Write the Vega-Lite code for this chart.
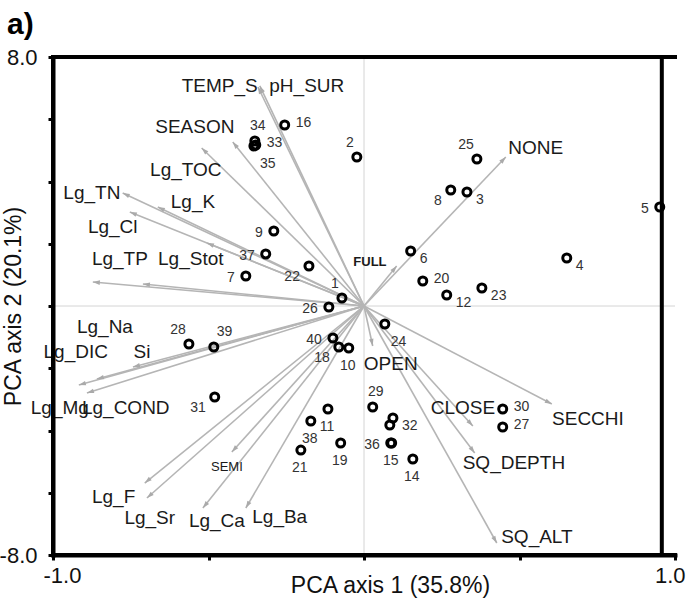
{
  "$schema": "https://vega.github.io/schema/vega-lite/v6.json",
  "width": 622,
  "height": 498,
  "autosize": "none",
  "padding": {"left": 53, "top": 57, "right": 21, "bottom": 47},
  "background": "white",
  "config": {
    "view": {"stroke": null},
    "font": "Liberation Sans",
    "axis": {"grid": false, "domain": true, "ticks": true, "domainColor": "black", "domainWidth": 4, "domainCap": "square", "domainOpacity": 1,
      "tickColor": "black", "tickWidth": 3, "tickSize": 5, "tickOpacity": 1, "zindex": 1,
      "labelFont": "Liberation Sans", "labelFontSize": 22, "labelColor": "#111",
      "titleFont": "Liberation Sans", "titleFontSize": 23, "titleFontWeight": "normal", "titleColor": "#111"}
  },
  "title": {"text": "a)", "anchor": "start", "frame": "group", "fontSize": 30, "fontWeight": "bold", "font": "Liberation Sans", "color": "black", "dx": -46, "offset": 6},
  "datasets": {
    "points": [
      {"id": "1", "x": -0.071, "y": 0.257, "pos": "nw"},
      {"id": "2", "x": -0.023, "y": 4.787, "pos": "nw"},
      {"id": "3", "x": 0.331, "y": 3.663, "pos": "se"},
      {"id": "4", "x": 0.652, "y": 1.542, "pos": "se"},
      {"id": "5", "x": 0.951, "y": 3.181, "pos": "w"},
      {"id": "6", "x": 0.150, "y": 1.767, "pos": "se"},
      {"id": "7", "x": -0.380, "y": 0.964, "pos": "w"},
      {"id": "8", "x": 0.279, "y": 3.727, "pos": "sw"},
      {"id": "9", "x": -0.290, "y": 2.410, "pos": "w"},
      {"id": "10", "x": -0.049, "y": -1.349, "pos": "s"},
      {"id": "11", "x": -0.116, "y": -3.309, "pos": "s"},
      {"id": "12", "x": 0.266, "y": 0.353, "pos": "se"},
      {"id": "13", "x": 0.083, "y": -3.823, "pos": "none"},
      {"id": "14", "x": 0.157, "y": -4.916, "pos": "s"},
      {"id": "15", "x": 0.089, "y": -4.402, "pos": "s"},
      {"id": "16", "x": -0.255, "y": 5.815, "pos": "e"},
      {"id": "18", "x": -0.081, "y": -1.317, "pos": "sw"},
      {"id": "19", "x": -0.075, "y": -4.402, "pos": "s"},
      {"id": "20", "x": 0.189, "y": 0.803, "pos": "e"},
      {"id": "21", "x": -0.203, "y": -4.627, "pos": "s"},
      {"id": "22", "x": -0.177, "y": 1.285, "pos": "sw"},
      {"id": "23", "x": 0.379, "y": 0.578, "pos": "se"},
      {"id": "24", "x": 0.067, "y": -0.578, "pos": "sse"},
      {"id": "25", "x": 0.363, "y": 4.723, "pos": "nw"},
      {"id": "26", "x": -0.113, "y": -0.032, "pos": "w"},
      {"id": "27", "x": 0.446, "y": -3.888, "pos": "e"},
      {"id": "28", "x": -0.563, "y": -1.221, "pos": "nw"},
      {"id": "29", "x": 0.028, "y": -3.245, "pos": "n"},
      {"id": "30", "x": 0.446, "y": -3.309, "pos": "e"},
      {"id": "31", "x": -0.480, "y": -2.924, "pos": "sw"},
      {"id": "32", "x": 0.093, "y": -3.598, "pos": "se"},
      {"id": "33", "x": -0.348, "y": 5.173, "pos": "e"},
      {"id": "34", "x": -0.351, "y": 5.301, "pos": "n"},
      {"id": "35", "x": -0.354, "y": 5.141, "pos": "sse"},
      {"id": "36", "x": 0.086, "y": -4.402, "pos": "w"},
      {"id": "37", "x": -0.316, "y": 1.671, "pos": "w"},
      {"id": "38", "x": -0.171, "y": -3.695, "pos": "s"},
      {"id": "39", "x": -0.483, "y": -1.317, "pos": "ne"},
      {"id": "40", "x": -0.100, "y": -1.028, "pos": "w"}
    ],
    "arrows": [
      {"name": "TEMP_S", "x": -0.341, "y": 7.036, "lx": -0.464, "ly": 7.068},
      {"name": "pH_SUR", "x": -0.335, "y": 7.07, "lx": -0.184, "ly": 7.068},
      {"name": "SEASON", "x": -0.422, "y": 5.269, "lx": -0.544, "ly": 5.751},
      {"name": "Lg_TOC", "x": -0.522, "y": 5.076, "lx": -0.573, "ly": 4.369},
      {"name": "Lg_TN", "x": -0.776, "y": 3.631, "lx": -0.875, "ly": 3.631},
      {"name": "Lg_K", "x": -0.663, "y": 3.181, "lx": -0.550, "ly": 3.341},
      {"name": "Lg_Cl", "x": -0.753, "y": 3.020, "lx": -0.808, "ly": 2.538},
      {"name": "Lg_Stot", "x": -0.505, "y": 2.024, "lx": -0.557, "ly": 1.510},
      {"name": "Lg_TP", "x": -0.711, "y": 0.707, "lx": -0.785, "ly": 1.510},
      {"name": "Lg_Na", "x": -0.872, "y": 0.771, "lx": -0.833, "ly": -0.675},
      {"name": "NONE", "x": 0.456, "y": 4.787, "lx": 0.552, "ly": 5.076},
      {"name": "FULL", "x": 0.105, "y": 1.285, "lx": 0.019, "ly": 1.414},
      {"name": "Si", "x": -0.743, "y": -1.960, "lx": -0.714, "ly": -1.478},
      {"name": "Lg_DIC", "x": -0.859, "y": -2.345, "lx": -0.927, "ly": -1.478},
      {"name": "Lg_Mg", "x": -0.917, "y": -2.538, "lx": -0.978, "ly": -3.277},
      {"name": "Lg_COND", "x": -0.891, "y": -2.795, "lx": -0.766, "ly": -3.277},
      {"name": "SEMI", "x": -0.425, "y": -4.691, "lx": -0.441, "ly": -5.173},
      {"name": "Lg_F", "x": -0.705, "y": -5.687, "lx": -0.805, "ly": -6.137},
      {"name": "Lg_Sr", "x": -0.698, "y": -6.169, "lx": -0.689, "ly": -6.811},
      {"name": "Lg_Ca", "x": -0.518, "y": -6.490, "lx": -0.473, "ly": -6.908},
      {"name": "Lg_Ba", "x": -0.380, "y": -6.490, "lx": -0.271, "ly": -6.779},
      {"name": "OPEN", "x": 0.028, "y": -1.285, "lx": 0.086, "ly": -1.863},
      {"name": "CLOSE", "x": 0.350, "y": -3.855, "lx": 0.318, "ly": -3.277},
      {"name": "SECCHI", "x": 0.604, "y": -3.149, "lx": 0.720, "ly": -3.631},
      {"name": "SQ_DEPTH", "x": 0.356, "y": -4.723, "lx": 0.482, "ly": -5.044},
      {"name": "SQ_ALT", "x": 0.427, "y": -7.614, "lx": 0.556, "ly": -7.422}
    ]
  },
  "layer": [
    {
      "data": {"values": [{}]},
      "mark": {"type": "rule", "color": "#d4d4d4", "strokeWidth": 1},
      "encoding": {"y": {"datum": 0, "type": "quantitative", "scale": {"domain": [-8, 8], "nice": false, "zero": false}}}
    },
    {
      "data": {"values": [{}]},
      "mark": {"type": "rule", "color": "#d4d4d4", "strokeWidth": 1},
      "encoding": {"x": {"datum": 0, "type": "quantitative", "scale": {"domain": [-1, 1], "nice": false, "zero": false}}}
    },
    {
      "data": {"name": "arrows"},
      "mark": {"type": "rule", "color": "#b5b5b5", "strokeWidth": 1.6},
      "encoding": {
        "x": {"field": "x", "type": "quantitative", "scale": {"domain": [-1, 1], "nice": false, "zero": false}},
        "y": {"field": "y", "type": "quantitative", "scale": {"domain": [-8, 8], "nice": false, "zero": false}},
        "x2": {"datum": 0},
        "y2": {"datum": 0}
      }
    },
    {
      "data": {"name": "arrows"},
      "transform": [{"calculate": "atan2(311 * datum.x, 31.125 * datum.y) * 180 / PI", "as": "ang"}],
      "mark": {"type": "point", "shape": "M0,0L-0.32,1L0.32,1Z", "filled": true, "color": "#aaaaaa", "size": 200, "opacity": 1},
      "encoding": {
        "x": {"field": "x", "type": "quantitative", "scale": {"domain": [-1, 1], "nice": false, "zero": false}},
        "y": {"field": "y", "type": "quantitative", "scale": {"domain": [-8, 8], "nice": false, "zero": false}},
        "angle": {"field": "ang", "type": "quantitative", "scale": null}
      }
    },
    {
      "data": {"name": "arrows"},
      "transform": [{"filter": "datum.name !== 'FULL' && datum.name !== 'SEMI'"}],
      "mark": {"type": "text", "fontSize": 19, "font": "Liberation Sans", "color": "#1a1a1a", "align": "center", "baseline": "middle"},
      "encoding": {
        "x": {"field": "lx", "type": "quantitative", "scale": {"domain": [-1, 1], "nice": false, "zero": false}},
        "y": {"field": "ly", "type": "quantitative", "scale": {"domain": [-8, 8], "nice": false, "zero": false}},
        "text": {"field": "name"}
      }
    },
    {
      "data": {"name": "arrows"},
      "transform": [{"filter": "datum.name === 'FULL'"}],
      "mark": {"type": "text", "fontSize": 13, "fontWeight": "bold", "font": "Liberation Sans", "color": "#1a1a1a", "align": "center", "baseline": "middle"},
      "encoding": {
        "x": {"field": "lx", "type": "quantitative", "scale": {"domain": [-1, 1], "nice": false, "zero": false}},
        "y": {"field": "ly", "type": "quantitative", "scale": {"domain": [-8, 8], "nice": false, "zero": false}},
        "text": {"field": "name"}
      }
    },
    {
      "data": {"name": "arrows"},
      "transform": [{"filter": "datum.name === 'SEMI'"}],
      "mark": {"type": "text", "fontSize": 13, "font": "Liberation Sans", "color": "#1a1a1a", "align": "center", "baseline": "middle"},
      "encoding": {
        "x": {"field": "lx", "type": "quantitative", "scale": {"domain": [-1, 1], "nice": false, "zero": false}},
        "y": {"field": "ly", "type": "quantitative", "scale": {"domain": [-8, 8], "nice": false, "zero": false}},
        "text": {"field": "name"}
      }
    },
    {
      "data": {"name": "points"},
      "transform": [{"filter": "datum.pos === 'n'"}],
      "mark": {"type": "text", "fontSize": 14, "font": "Liberation Sans", "color": "#333", "align": "center", "baseline": "middle", "dx": 3, "dy": -15},
      "encoding": {
        "x": {"field": "x", "type": "quantitative", "scale": {"domain": [-1, 1], "nice": false, "zero": false}},
        "y": {"field": "y", "type": "quantitative", "scale": {"domain": [-8, 8], "nice": false, "zero": false}},
        "text": {"field": "id"}
      }
    },
    {
      "data": {"name": "points"},
      "transform": [{"filter": "datum.pos === 's'"}],
      "mark": {"type": "text", "fontSize": 14, "font": "Liberation Sans", "color": "#333", "align": "center", "baseline": "middle", "dx": -1, "dy": 18},
      "encoding": {
        "x": {"field": "x", "type": "quantitative", "scale": {"domain": [-1, 1], "nice": false, "zero": false}},
        "y": {"field": "y", "type": "quantitative", "scale": {"domain": [-8, 8], "nice": false, "zero": false}},
        "text": {"field": "id"}
      }
    },
    {
      "data": {"name": "points"},
      "transform": [{"filter": "datum.pos === 'e'"}],
      "mark": {"type": "text", "fontSize": 14, "font": "Liberation Sans", "color": "#333", "align": "left", "baseline": "middle", "dx": 11, "dy": -2},
      "encoding": {
        "x": {"field": "x", "type": "quantitative", "scale": {"domain": [-1, 1], "nice": false, "zero": false}},
        "y": {"field": "y", "type": "quantitative", "scale": {"domain": [-8, 8], "nice": false, "zero": false}},
        "text": {"field": "id"}
      }
    },
    {
      "data": {"name": "points"},
      "transform": [{"filter": "datum.pos === 'w'"}],
      "mark": {"type": "text", "fontSize": 14, "font": "Liberation Sans", "color": "#333", "align": "right", "baseline": "middle", "dx": -11, "dy": 2},
      "encoding": {
        "x": {"field": "x", "type": "quantitative", "scale": {"domain": [-1, 1], "nice": false, "zero": false}},
        "y": {"field": "y", "type": "quantitative", "scale": {"domain": [-8, 8], "nice": false, "zero": false}},
        "text": {"field": "id"}
      }
    },
    {
      "data": {"name": "points"},
      "transform": [{"filter": "datum.pos === 'ne'"}],
      "mark": {"type": "text", "fontSize": 14, "font": "Liberation Sans", "color": "#333", "align": "left", "baseline": "middle", "dx": 3, "dy": -15},
      "encoding": {
        "x": {"field": "x", "type": "quantitative", "scale": {"domain": [-1, 1], "nice": false, "zero": false}},
        "y": {"field": "y", "type": "quantitative", "scale": {"domain": [-8, 8], "nice": false, "zero": false}},
        "text": {"field": "id"}
      }
    },
    {
      "data": {"name": "points"},
      "transform": [{"filter": "datum.pos === 'nw'"}],
      "mark": {"type": "text", "fontSize": 14, "font": "Liberation Sans", "color": "#333", "align": "right", "baseline": "middle", "dx": -3, "dy": -14},
      "encoding": {
        "x": {"field": "x", "type": "quantitative", "scale": {"domain": [-1, 1], "nice": false, "zero": false}},
        "y": {"field": "y", "type": "quantitative", "scale": {"domain": [-8, 8], "nice": false, "zero": false}},
        "text": {"field": "id"}
      }
    },
    {
      "data": {"name": "points"},
      "transform": [{"filter": "datum.pos === 'se'"}],
      "mark": {"type": "text", "fontSize": 14, "font": "Liberation Sans", "color": "#333", "align": "left", "baseline": "middle", "dx": 9, "dy": 8},
      "encoding": {
        "x": {"field": "x", "type": "quantitative", "scale": {"domain": [-1, 1], "nice": false, "zero": false}},
        "y": {"field": "y", "type": "quantitative", "scale": {"domain": [-8, 8], "nice": false, "zero": false}},
        "text": {"field": "id"}
      }
    },
    {
      "data": {"name": "points"},
      "transform": [{"filter": "datum.pos === 'sw'"}],
      "mark": {"type": "text", "fontSize": 14, "font": "Liberation Sans", "color": "#333", "align": "right", "baseline": "middle", "dx": -9, "dy": 11},
      "encoding": {
        "x": {"field": "x", "type": "quantitative", "scale": {"domain": [-1, 1], "nice": false, "zero": false}},
        "y": {"field": "y", "type": "quantitative", "scale": {"domain": [-8, 8], "nice": false, "zero": false}},
        "text": {"field": "id"}
      }
    },
    {
      "data": {"name": "points"},
      "transform": [{"filter": "datum.pos === 'sse'"}],
      "mark": {"type": "text", "fontSize": 14, "font": "Liberation Sans", "color": "#333", "align": "left", "baseline": "middle", "dx": 6, "dy": 18},
      "encoding": {
        "x": {"field": "x", "type": "quantitative", "scale": {"domain": [-1, 1], "nice": false, "zero": false}},
        "y": {"field": "y", "type": "quantitative", "scale": {"domain": [-8, 8], "nice": false, "zero": false}},
        "text": {"field": "id"}
      }
    },
    {
      "data": {"values": [{}]},
      "mark": {"type": "rule", "color": "black", "strokeWidth": 4, "strokeCap": "square"},
      "encoding": {"y": {"datum": 8, "type": "quantitative", "scale": {"domain": [-8, 8], "nice": false, "zero": false}}}
    },
    {
      "data": {"values": [{}]},
      "mark": {"type": "rule", "color": "black", "strokeWidth": 4, "strokeCap": "square"},
      "encoding": {"y": {"datum": -8, "type": "quantitative", "scale": {"domain": [-8, 8], "nice": false, "zero": false}}}
    },
    {
      "data": {"values": [{}]},
      "mark": {"type": "rule", "color": "black", "strokeWidth": 4, "strokeCap": "square"},
      "encoding": {"x": {"datum": -1, "type": "quantitative", "scale": {"domain": [-1, 1], "nice": false, "zero": false}}}
    },
    {
      "data": {"values": [{}]},
      "mark": {"type": "rule", "color": "black", "strokeWidth": 4, "strokeCap": "square"},
      "encoding": {"x": {"datum": 0.9576, "type": "quantitative", "scale": {"domain": [-1, 1], "nice": false, "zero": false}}}
    },
    {
      "data": {"name": "points"},
      "mark": {"type": "point", "shape": "circle", "filled": false, "size": 64, "strokeWidth": 3, "color": "black", "opacity": 1},
      "encoding": {
        "x": {"field": "x", "type": "quantitative", "scale": {"domain": [-1, 1], "nice": false, "zero": false},
          "axis": {"title": "PCA axis 1 (35.8%)", "values": [-1, -0.5, 0, 0.5, 1],
            "domain": true, "ticks": true, "domainColor": "black", "domainWidth": 4, "domainCap": "square",
            "tickColor": "black", "tickWidth": 3, "tickSize": 5, "zindex": 1,
            "labelExpr": "datum.value === 1 ? '1.0' : (datum.value === -1 ? '-1.0' : '')",
            "labelPadding": 5, "labelFlush": true, "labelFlushOffset": 10,
            "titleX": 337, "titleY": 37, "titleAlign": "center", "titleBaseline": "alphabetic"}},
        "y": {"field": "y", "type": "quantitative", "scale": {"domain": [-8, 8], "nice": false, "zero": false},
          "axis": {"title": "PCA axis 2 (20.1%)", "values": [-8, -6, -4, -2, 0, 2, 4, 6, 8],
            "domain": true, "ticks": true, "domainColor": "black", "domainWidth": 4, "domainCap": "square",
            "tickColor": "black", "tickWidth": 3, "tickSize": 5, "zindex": 1,
            "labelExpr": "datum.value === 8 ? '8.0' : (datum.value === -8 ? '-8.0' : '')",
            "labelPadding": 11, "labelFlush": false,
            "titleX": -33, "titleY": 249, "titleAngle": -90, "titleAlign": "center", "titleBaseline": "alphabetic"}}
      }
    }
  ]
}
